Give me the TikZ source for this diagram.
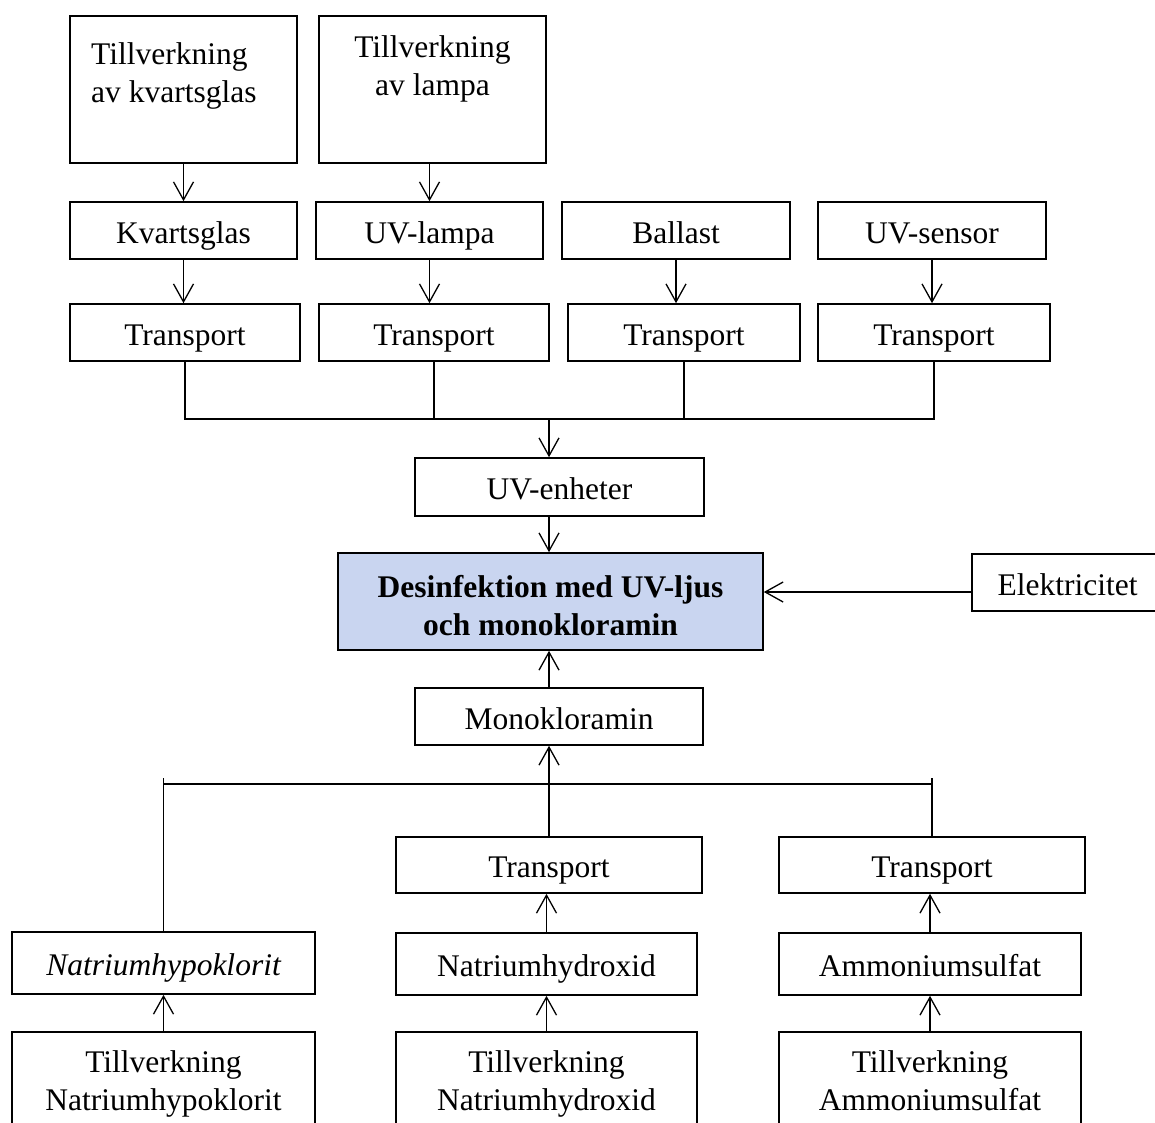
\documentclass[tikz,border=0pt]{standalone}
\usepackage{fontspec}
\setmainfont{Liberation Serif}
\usetikzlibrary{arrows.meta}
\definecolor{mainfill}{RGB}{201,213,240}
\newcommand{\boxfont}{\fontsize{31.5}{38}\selectfont}
\tikzset{
  box/.style={draw, line width=1.6pt, inner sep=0pt, font=\boxfont, text height=25pt, text depth=0pt},
  tallbox/.style={draw, line width=1.6pt, inner sep=0pt, font=\boxfont, align=center},
  lbl/.style={inner sep=0pt, font=\boxfont},
  arr/.style={-{Straight Barb[length=18pt,width=20pt]}, line width=1.3pt},
  link/.style={line width=1.3pt},
}
\begin{document}
\begin{tikzpicture}[x=1pt,y=-1pt]
\useasboundingbox (0,0) rectangle (1155,1122);
\clip (0,0) rectangle (1155,1122);
%%
  % Node: tkv
  \node[box, minimum width=227pt, minimum height=147pt] (tkv) at (183.5,89.5) {};
  \node[lbl, anchor=north west, align=left] (tkvtext) at (91,42) {Tillverkning\\av kvartsglas};
  % Node: tla
  \node[box, minimum width=227pt, minimum height=147pt] (tla) at (432.5,89.5) {};
  \node[lbl, anchor=north, align=center] (tlatext) at (432.5,35) {Tillverkning\\av lampa};
  % Node: components
  \node[box, minimum width=227pt, minimum height=57pt] (kvarts) at (183.5,230.5) {Kvartsglas};
  \node[box, minimum width=227pt, minimum height=57pt] (uvlampa) at (429.5,230.5) {UV-lampa};
  \node[box, minimum width=228pt, minimum height=57pt] (ballast) at (676,230.5) {Ballast};
  \node[box, minimum width=228pt, minimum height=57pt] (uvsensor) at (932,230.5) {UV-sensor};
  % Node: transports
  \node[box, minimum width=230pt, minimum height=57pt] (tr1) at (185,332.5) {Transport};
  \node[box, minimum width=230pt, minimum height=57pt] (tr2) at (434,332.5) {Transport};
  \node[box, minimum width=232pt, minimum height=57pt] (tr3) at (684,332.5) {Transport};
  \node[box, minimum width=232pt, minimum height=57pt] (tr4) at (934,332.5) {Transport};
  % Node: uvenh, main, elek, mono
  \node[box, minimum width=289pt, minimum height=58pt] (uvenh) at (559.5,487) {UV-enheter};
  \node[box, fill=mainfill, minimum width=425pt, minimum height=97pt] (main) at (550.5,601.5) {};
  \node[lbl, font=\boxfont\bfseries, align=center] (maintext) at ([yshift=-4pt]main.center) {Desinfektion med UV-ljus\\och monokloramin};
  \node[box, minimum width=191pt, minimum height=57pt] (elek) at (1067.5,582.5) {Elektricitet};
  \node[box, minimum width=288pt, minimum height=57pt] (mono) at (559,716.5) {Monokloramin};
  % Node: chemicals
  \node[box, minimum width=306pt, minimum height=56pt] (tb2) at (549,865) {Transport};
  \node[box, minimum width=306pt, minimum height=56pt] (tb3) at (932,865) {Transport};
  \node[box, font=\boxfont\itshape, minimum width=303pt, minimum height=62pt] (nahypo) at (163.5,963) {Natriumhypoklorit};
  \node[box, minimum width=301pt, minimum height=62pt] (nahydr) at (546.5,964) {Natriumhydroxid};
  \node[box, minimum width=302pt, minimum height=62pt] (amm) at (930,964) {Ammoniumsulfat};
  \node[tallbox, minimum width=303pt, minimum height=103pt] (tnahypo) at (163.5,1083.5) {Tillverkning\\Natriumhypoklorit};
  \node[tallbox, minimum width=301pt, minimum height=103pt] (tnahydr) at (546.5,1083.5) {Tillverkning\\Natriumhydroxid};
  \node[tallbox, minimum width=302pt, minimum height=103pt] (tamm) at (930,1083.5) {Tillverkning\\Ammoniumsulfat\vphantom{y}};
  \coordinate (bus1) at (549,419);
  \coordinate (bus2) at (549,784);
  % Edge: production -> components
  \draw[arr] (tkv.south -| kvarts.north) -- (kvarts.north);
  \draw[arr] (tla.south -| uvlampa.north) -- (uvlampa.north);
  % Edge: components -> transports
  \draw[arr] (kvarts.south) -- (kvarts.south |- tr1.north);
  \draw[arr] (uvlampa.south) -- (uvlampa.south |- tr2.north);
  \draw[arr] (ballast.south) -- (ballast.south |- tr3.north);
  \draw[arr] (uvsensor.south) -- (uvsensor.south |- tr4.north);
  % Edge: transports -> uvenh
  \draw[link] (tr1.south) -- (tr1.south |- bus1) -- (tr4.south |- bus1) -- (tr4.south);
  \draw[link] (tr2.south) -- (tr2.south |- bus1);
  \draw[link] (tr3.south) -- (tr3.south |- bus1);
  \draw[arr] (bus1) -- (bus1 |- uvenh.north);
  % Edge: uvenh -> main
  \draw[arr] (uvenh.south -| bus1) -- (bus1 |- main.north);
  % Edge: elek -> main
  \draw[arr] ([yshift=-9.5pt]elek.west) -- ([yshift=-9.5pt]elek.west -| main.east);
  % Edge: mono -> main
  \draw[arr] (mono.north -| bus1) -- (bus1 |- main.south);
  % Edge: chemicals -> mono
  \draw[link] (nahypo.north) -- (nahypo.north |- bus2) -- ++(0,-6);
  \draw[link] (tb3.north) -- (tb3.north |- bus2) -- ++(0,-6);
  \draw[link] (nahypo.north |- bus2) -- (tb3.north |- bus2);
  \draw[arr] (tb2.north) -- (tb2.north |- mono.south);
  % Edge: production -> chemicals
  \draw[arr] (nahydr.north) -- (tb2.south -| nahydr.north);
  \draw[arr] (amm.north) -- (tb3.south -| amm.north);
  \draw[arr] (tnahypo.north) -- (nahypo.south);
  \draw[arr] (tnahydr.north) -- (nahydr.south);
  \draw[arr] (tamm.north) -- (amm.south);
%
\end{tikzpicture}
\end{document}
